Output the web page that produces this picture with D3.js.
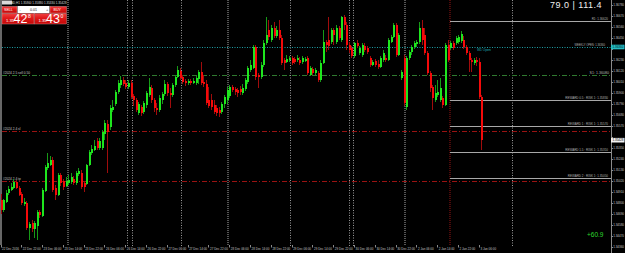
<!DOCTYPE html>
<html>
<head>
<meta charset="utf-8">
<script src="https://cdn.jsdelivr.net/npm/d3@7"></script>
<style>
html, body { margin: 0; padding: 0; background: #000; overflow: hidden; }
svg { display: block; }
text { font-family: "Liberation Sans", Arial, sans-serif; }
</style>
</head>
<body>
<div class="container"></div>
<script>
var width = 625, height = 253;

// price axis labels (right side)
var priceTicks = [1.3678, 1.3667, 1.3656, 1.3645, 1.3634, 1.3623, 1.3612, 1.3601, 1.3590, 1.3579, 1.3568, 1.3557,
	1.3546, 1.3535, 1.3524, 1.3513, 1.3502, 1.3491, 1.3480, 1.3469, 1.3458, 1.3447, 1.3436];

// time axis labels, one every 8 hourly bars
var timeLabels = ["22 Dec 2016", "22 Dec 22:00", "23 Dec 06:00", "23 Dec 14:00", "23 Dec 22:00", "26 Dec 06:00",
	"26 Dec 14:00", "26 Dec 22:00", "27 Dec 06:00", "27 Dec 14:00", "27 Dec 22:00", "28 Dec 06:00",
	"28 Dec 14:00", "28 Dec 22:00", "29 Dec 06:00", "29 Dec 14:00", "29 Dec 22:00", "30 Dec 06:00",
	"30 Dec 14:00", "30 Dec 22:00", "2 Jan 06:00", "2 Jan 14:00", "2 Jan 22:00", "3 Jan 06:00"];
var timeLabelBars = [0, 8, 16, 24, 32, 40, 48, 56, 64, 72, 80, 88, 96, 104, 112, 120, 128, 136, 144, 152, 160, 168, 176, 184];

// USDCAD H1 candles
var open = [
	1.3483, 1.3473, 1.3481, 1.3490, 1.3493, 1.3495, 1.3501, 1.3495, 1.3489, 1.3479, 1.3480, 1.3455,
	1.3460, 1.3454, 1.3457, 1.3471, 1.3467, 1.3492, 1.3515, 1.3518, 1.3523, 1.3495, 1.3488, 1.3508,
	1.3502, 1.3497, 1.3500, 1.3501, 1.3504, 1.3500, 1.3509, 1.3510, 1.3500, 1.3499, 1.3518, 1.3530,
	1.3533, 1.3542, 1.3535, 1.3535, 1.3549, 1.3559, 1.3556, 1.3573, 1.3579, 1.3591, 1.3598, 1.3603,
	1.3600, 1.3596, 1.3600, 1.3587, 1.3583, 1.3570, 1.3576, 1.3571, 1.3578, 1.3588, 1.3595, 1.3583,
	1.3575, 1.3573, 1.3583, 1.3589, 1.3599, 1.3590, 1.3588, 1.3598, 1.3606, 1.3612, 1.3606, 1.3602,
	1.3600, 1.3602, 1.3600, 1.3600, 1.3604, 1.3611, 1.3601, 1.3599, 1.3583, 1.3583, 1.3578, 1.3575,
	1.3573, 1.3571, 1.3579, 1.3583, 1.3587, 1.3596, 1.3594, 1.3593, 1.3594, 1.3590, 1.3594, 1.3601,
	1.3613, 1.3615, 1.3636, 1.3608, 1.3606, 1.3618, 1.3640, 1.3653, 1.3643, 1.3655, 1.3647, 1.3653,
	1.3645, 1.3623, 1.3621, 1.3623, 1.3625, 1.3624, 1.3623, 1.3623, 1.3621, 1.3622, 1.3625, 1.3608,
	1.3614, 1.3610, 1.3610, 1.3603, 1.3620, 1.3641, 1.3643, 1.3641, 1.3653, 1.3641, 1.3655, 1.3643,
	1.3666, 1.3658, 1.3638, 1.3635, 1.3627, 1.3640, 1.3630, 1.3628, 1.3637, 1.3635, 1.3625, 1.3618,
	1.3622, 1.3619, 1.3616, 1.3623, 1.3625, 1.3623, 1.3641, 1.3646, 1.3658, 1.3628, 1.3605, 1.3625,
	1.3576, 1.3625, 1.3631, 1.3636, 1.3639, 1.3641, 1.3655, 1.3648, 1.3630, 1.3610, 1.3596, 1.3583,
	1.3588, 1.3583, 1.3585, 1.3578, 1.3638, 1.3635, 1.3640, 1.3640, 1.3641, 1.3642, 1.3643, 1.3636,
	1.3630, 1.3623, 1.3620, 1.3623, 1.3621, 1.3586];
var high = [
	1.3489, 1.3484, 1.3493, 1.3497, 1.3500, 1.3504, 1.3503, 1.3497, 1.3491, 1.3485, 1.3482, 1.3461,
	1.3463, 1.3462, 1.3473, 1.3473, 1.3495, 1.3518, 1.3530, 1.3527, 1.3526, 1.3498, 1.3510, 1.3510,
	1.3504, 1.3506, 1.3508, 1.3510, 1.3507, 1.3512, 1.3515, 1.3513, 1.3502, 1.3519, 1.3533, 1.3538,
	1.3543, 1.3545, 1.3545, 1.3553, 1.3563, 1.3563, 1.3578, 1.3583, 1.3593, 1.3603, 1.3607, 1.3606,
	1.3603, 1.3603, 1.3603, 1.3589, 1.3585, 1.3581, 1.3578, 1.3582, 1.3592, 1.3605, 1.3598, 1.3585,
	1.3580, 1.3588, 1.3591, 1.3603, 1.3601, 1.3595, 1.3600, 1.3608, 1.3617, 1.3615, 1.3608, 1.3604,
	1.3604, 1.3604, 1.3605, 1.3607, 1.3613, 1.3621, 1.3608, 1.3603, 1.3596, 1.3589, 1.3583, 1.3578,
	1.3576, 1.3581, 1.3588, 1.3596, 1.3598, 1.3598, 1.3596, 1.3595, 1.3597, 1.3599, 1.3605, 1.3617,
	1.3623, 1.3638, 1.3638, 1.3610, 1.3621, 1.3643, 1.3666, 1.3663, 1.3658, 1.3661, 1.3657, 1.3663,
	1.3648, 1.3625, 1.3628, 1.3627, 1.3627, 1.3626, 1.3628, 1.3626, 1.3627, 1.3626, 1.3627, 1.3617,
	1.3616, 1.3615, 1.3612, 1.3623, 1.3653, 1.3643, 1.3666, 1.3655, 1.3655, 1.3658, 1.3657, 1.3667,
	1.3668, 1.3661, 1.3641, 1.3637, 1.3641, 1.3643, 1.3637, 1.3640, 1.3640, 1.3637, 1.3627, 1.3623,
	1.3624, 1.3623, 1.3627, 1.3633, 1.3628, 1.3645, 1.3648, 1.3660, 1.3660, 1.3650, 1.3613, 1.3628,
	1.3627, 1.3633, 1.3638, 1.3642, 1.3643, 1.3661, 1.3663, 1.3655, 1.3632, 1.3612, 1.3598, 1.3598,
	1.3603, 1.3605, 1.3587, 1.3640, 1.3643, 1.3642, 1.3642, 1.3647, 1.3648, 1.3652, 1.3647, 1.3638,
	1.3632, 1.3625, 1.3625, 1.3626, 1.3625, 1.3588];
var low = [
	1.3469, 1.3471, 1.3480, 1.3488, 1.3492, 1.3494, 1.3494, 1.3487, 1.3478, 1.3477, 1.3453, 1.3443,
	1.3451, 1.3445, 1.3443, 1.3465, 1.3466, 1.3491, 1.3513, 1.3517, 1.3491, 1.3483, 1.3487, 1.3497,
	1.3493, 1.3496, 1.3498, 1.3499, 1.3498, 1.3498, 1.3507, 1.3494, 1.3491, 1.3498, 1.3517, 1.3528,
	1.3532, 1.3533, 1.3533, 1.3533, 1.3543, 1.3510, 1.3553, 1.3571, 1.3577, 1.3589, 1.3595, 1.3597,
	1.3594, 1.3594, 1.3584, 1.3577, 1.3571, 1.3568, 1.3567, 1.3569, 1.3575, 1.3586, 1.3580, 1.3571,
	1.3568, 1.3571, 1.3579, 1.3587, 1.3587, 1.3575, 1.3586, 1.3596, 1.3605, 1.3603, 1.3599, 1.3597,
	1.3598, 1.3598, 1.3599, 1.3598, 1.3599, 1.3598, 1.3596, 1.3578, 1.3575, 1.3573, 1.3569, 1.3567,
	1.3566, 1.3569, 1.3575, 1.3579, 1.3585, 1.3591, 1.3588, 1.3586, 1.3588, 1.3588, 1.3592, 1.3599,
	1.3611, 1.3614, 1.3603, 1.3595, 1.3604, 1.3616, 1.3638, 1.3643, 1.3641, 1.3645, 1.3645, 1.3643,
	1.3618, 1.3613, 1.3620, 1.3621, 1.3618, 1.3619, 1.3621, 1.3618, 1.3619, 1.3621, 1.3608, 1.3607,
	1.3608, 1.3608, 1.3601, 1.3601, 1.3619, 1.3631, 1.3633, 1.3639, 1.3638, 1.3639, 1.3643, 1.3641,
	1.3653, 1.3633, 1.3630, 1.3625, 1.3625, 1.3635, 1.3628, 1.3626, 1.3631, 1.3629, 1.3616, 1.3617,
	1.3616, 1.3614, 1.3615, 1.3621, 1.3621, 1.3622, 1.3640, 1.3645, 1.3626, 1.3627, 1.3603, 1.3577,
	1.3573, 1.3623, 1.3628, 1.3634, 1.3636, 1.3639, 1.3638, 1.3628, 1.3608, 1.3591, 1.3573, 1.3581,
	1.3586, 1.3581, 1.3575, 1.3577, 1.3621, 1.3633, 1.3633, 1.3638, 1.3639, 1.3640, 1.3634, 1.3628,
	1.3611, 1.3611, 1.3618, 1.3617, 1.3584, 1.3533];
var close = [
	1.3473, 1.3483, 1.3490, 1.3494, 1.3496, 1.3501, 1.3495, 1.3488, 1.3480, 1.3481, 1.3455, 1.3459,
	1.3454, 1.3460, 1.3471, 1.3468, 1.3493, 1.3516, 1.3520, 1.3523, 1.3493, 1.3488, 1.3508, 1.3500,
	1.3496, 1.3502, 1.3503, 1.3506, 1.3500, 1.3510, 1.3512, 1.3496, 1.3496, 1.3518, 1.3531, 1.3534,
	1.3537, 1.3535, 1.3542, 1.3551, 1.3560, 1.3551, 1.3575, 1.3576, 1.3591, 1.3600, 1.3603, 1.3599,
	1.3596, 1.3600, 1.3586, 1.3583, 1.3573, 1.3579, 1.3570, 1.3580, 1.3590, 1.3596, 1.3583, 1.3575,
	1.3573, 1.3585, 1.3589, 1.3599, 1.3590, 1.3588, 1.3598, 1.3606, 1.3613, 1.3605, 1.3601, 1.3600,
	1.3602, 1.3600, 1.3602, 1.3605, 1.3611, 1.3600, 1.3599, 1.3580, 1.3577, 1.3576, 1.3571, 1.3570,
	1.3570, 1.3579, 1.3586, 1.3593, 1.3596, 1.3593, 1.3591, 1.3590, 1.3591, 1.3595, 1.3603, 1.3615,
	1.3618, 1.3636, 1.3606, 1.3606, 1.3618, 1.3640, 1.3648, 1.3646, 1.3655, 1.3647, 1.3653, 1.3645,
	1.3620, 1.3620, 1.3624, 1.3625, 1.3620, 1.3621, 1.3625, 1.3620, 1.3625, 1.3624, 1.3610, 1.3615,
	1.3610, 1.3613, 1.3603, 1.3620, 1.3641, 1.3638, 1.3637, 1.3653, 1.3648, 1.3655, 1.3645, 1.3666,
	1.3658, 1.3638, 1.3633, 1.3627, 1.3640, 1.3637, 1.3635, 1.3638, 1.3633, 1.3631, 1.3618, 1.3621,
	1.3618, 1.3616, 1.3625, 1.3630, 1.3623, 1.3643, 1.3646, 1.3658, 1.3628, 1.3648, 1.3611, 1.3580,
	1.3625, 1.3631, 1.3636, 1.3640, 1.3641, 1.3655, 1.3643, 1.3630, 1.3610, 1.3595, 1.3585, 1.3590,
	1.3591, 1.3595, 1.3578, 1.3638, 1.3623, 1.3640, 1.3635, 1.3645, 1.3646, 1.3649, 1.3636, 1.3630,
	1.3623, 1.3621, 1.3623, 1.3621, 1.3586, 1.3543];

// vertical dotted lines (bar index positions)
var gridBars = [48.3, 50.2, 69, 111, 133.7, 135.2, 196.3];
var sepBars = [25.6, 87.1, 155];
var dayBar = 172.5;

// levels drawn from the day separator to the price axis
var levelPrices = [1.3662, 1.3583, 1.3557, 1.3531, 1.3505];
var levelNames = ["R1: 1.36620", "REWARD 0.5 : RISK 1: 1.35830", "REWARD 1 : RISK 1: 1.35570",
	"REWARD 1.5 : RISK 1: 1.35310", "REWARD 2 : RISK 1: 1.35050"];

// full width lines
var weeklyOpen = 1.3636;
var supportLine = 1.3608;
var redLines = [1.3552, 1.3502];
var orderNames = ["#2024 2.5 sell 0.50", "#2024 2.4 sl", "#2024 2.4 tp"];
var orderPrices = [1.3608, 1.3552, 1.3502];

var bid = 1.35428, ask = 1.35430;

var svg = d3.select('.container').append('svg')
	.attr('width', width)
	.attr('height', height)
	.style('background', '#000');

var x = d3.scaleLinear().domain([0, 234]).range([1.5, 1.5 + 2.6 * 234]);
var y = d3.scaleLinear().domain([1.3683, 1.3433]).range([0, 250]);
var axisX = 611;
var fmt = d3.format('.5f');

// left frame
svg.append('line').attr('x1', 1).attr('x2', 1).attr('y1', 0).attr('y2', 245)
	.attr('stroke', '#8a8a8a').attr('stroke-width', 1.5);

// dotted verticals
svg.selectAll('line.grid').data(gridBars).enter().append('line')
	.attr('x1', function (d) { return Math.round(x(d)) + 0.5; })
	.attr('x2', function (d) { return Math.round(x(d)) + 0.5; })
	.attr('y1', 0).attr('y2', 246)
	.attr('stroke', '#9a9a9a').attr('stroke-dasharray', '1,1.5');
svg.selectAll('line.sep').data(sepBars).enter().append('line')
	.attr('x1', function (d) { return Math.round(x(d)); })
	.attr('x2', function (d) { return Math.round(x(d)); })
	.attr('y1', 0).attr('y2', 246)
	.attr('stroke', '#6a6a6a').attr('stroke-width', 1.6).attr('stroke-dasharray', '1,1');
svg.append('line')
	.attr('x1', Math.round(x(dayBar))).attr('x2', Math.round(x(dayBar)))
	.attr('y1', 0).attr('y2', 246)
	.attr('stroke', '#4e0a0a').attr('stroke-width', 2).attr('stroke-dasharray', '1,1');

// full width horizontal lines
svg.append('line').attr('x1', 2).attr('x2', axisX)
	.attr('y1', Math.round(y(weeklyOpen)) + 0.5).attr('y2', Math.round(y(weeklyOpen)) + 0.5)
	.attr('stroke', '#1e9ea6').attr('stroke-dasharray', '1,1.5');
svg.append('line').attr('x1', 2).attr('x2', axisX)
	.attr('y1', Math.round(y(supportLine)) + 0.5).attr('y2', Math.round(y(supportLine)) + 0.5)
	.attr('stroke', '#2f7a2f').attr('stroke-dasharray', '5,2,1,2');
svg.selectAll('line.red').data(redLines).enter().append('line')
	.attr('x1', 2).attr('x2', axisX)
	.attr('y1', function (d) { return Math.round(y(d)) + 0.5; })
	.attr('y2', function (d) { return Math.round(y(d)) + 0.5; })
	.attr('stroke', '#9a1212').attr('stroke-dasharray', '5,2,1,2');

// right side levels
svg.selectAll('line.level').data(levelPrices).enter().append('line')
	.attr('x1', Math.round(x(dayBar))).attr('x2', axisX)
	.attr('y1', function (d) { return Math.round(y(d)) + 0.5; })
	.attr('y2', function (d) { return Math.round(y(d)) + 0.5; })
	.attr('stroke', '#a8a8a8').attr('stroke-width', 1.2);
svg.selectAll('text.level').data(levelPrices).enter().append('text')
	.attr('x', 608).attr('y', function (d) { return y(d) - 1; })
	.attr('text-anchor', 'end')
	.attr('font-size', 3).attr('fill', '#b0b0b0')
	.text(function (d, i) { return levelNames[i]; });
svg.append('text').attr('x', 605).attr('y', y(weeklyOpen) - 0.7)
	.attr('text-anchor', 'end').attr('font-size', 2.7).attr('fill', '#b0b0b0')
	.text('WEEKLY OPEN: ' + fmt(weeklyOpen));
svg.append('text').attr('x', 609).attr('y', y(supportLine) - 1.5)
	.attr('text-anchor', 'end').attr('font-size', 3.6).attr('fill', '#b0b0b0')
	.text('S1: ' + fmt(supportLine));
svg.append('text').attr('x', 477).attr('y', y(weeklyOpen) + 3.5)
	.attr('font-size', 3.3).attr('fill', '#1eb4bc')
	.text('W1 Open');

// order labels on the left
svg.selectAll('text.order').data(orderPrices).enter().append('text')
	.attr('x', 3).attr('y', function (d) { return y(d) - 1; })
	.attr('font-size', 3.2).attr('fill', '#c8c8c8')
	.text(function (d, i) { return orderNames[i]; });

// candles
var bars = close.map(function (c, i) {
	return { i: i, o: open[i], h: high[i], l: low[i], c: c };
});
var candles = svg.append('g');
candles.selectAll('rect.wick').data(bars).enter().append('rect')
	.attr('x', function (d) { return Math.round(x(d.i)) - 1; })
	.attr('y', function (d) { return y(d.h); })
	.attr('width', 1)
	.attr('height', function (d) { return y(d.l) - y(d.h); })
	.attr('fill', function (d) { return d.c >= d.o ? '#179a17' : '#a00c0c'; });
candles.selectAll('rect.body').data(bars).enter().append('rect')
	.attr('x', function (d) { return Math.round(x(d.i)) - 1; })
	.attr('y', function (d) { return y(Math.max(d.o, d.c)); })
	.attr('width', 2)
	.attr('height', function (d) { return Math.max(1, Math.abs(y(d.o) - y(d.c))); })
	.attr('fill', function (d) { return d.c >= d.o ? '#1ee61e' : '#f40a0a'; });

// price axis
var tagPrices = [weeklyOpen, bid];
svg.append('line').attr('x1', axisX + 0.5).attr('x2', axisX + 0.5).attr('y1', 0).attr('y2', 253)
	.attr('stroke', '#8a8a8a');
var py = svg.append('g');
py.selectAll('line').data(priceTicks).enter().append('line')
	.attr('x1', axisX).attr('x2', axisX + 2)
	.attr('y1', function (d) { return Math.round(y(d)) + 0.5; })
	.attr('y2', function (d) { return Math.round(y(d)) + 0.5; })
	.attr('stroke', '#8a8a8a');
// tick labels hidden under the highlighted price tags are left out
var shownTicks = priceTicks.filter(function (d) {
	return tagPrices.every(function (t) { return Math.abs(y(t) - y(d)) > 5; });
});
py.selectAll('text').data(shownTicks).enter().append('text')
	.attr('x', axisX + 2.2).attr('y', function (d) { return y(d) + 1.2; })
	.attr('font-size', 3).attr('fill', '#c4c4c4')
	.text(function (d) { return fmt(d); });

// highlighted prices on the axis
function priceTag(p, bg, fg) {
	var yy = y(p);
	svg.append('rect').attr('x', axisX).attr('y', yy - 2.3).attr('width', 13.5).attr('height', 4.6).attr('fill', bg);
	svg.append('text').attr('x', axisX + 1.5).attr('y', yy + 1.2)
		.attr('font-size', 3).attr('fill', fg)
		.text(fmt(p));
}
priceTag(weeklyOpen, '#24bcc4', '#002020');
priceTag(bid, '#f2f2f2', '#000');

// time axis
var tx = svg.append('g');
tx.selectAll('line').data(timeLabelBars).enter().append('line')
	.attr('x1', function (d) { return Math.round(x(d)) - 0.5; })
	.attr('x2', function (d) { return Math.round(x(d)) - 0.5; })
	.attr('y1', 245).attr('y2', 247.5)
	.attr('stroke', '#8a8a8a');
tx.selectAll('text').data(timeLabelBars).enter().append('text')
	.attr('x', function (d) { return x(d) + 0.5; })
	.attr('y', 250.3)
	.attr('font-size', 3).attr('fill', '#c4c4c4')
	.text(function (d, i) { return timeLabels[i]; });

// info texts
svg.append('text').attr('x', 550).attr('y', 7.5)
	.attr('font-size', 9).attr('letter-spacing', 0.5).attr('fill', '#f0f0f0')
	.text('79.0 | 111.4');
svg.append('text').attr('x', 587).attr('y', 237)
	.attr('font-size', 6.5).attr('fill', '#2ed82e')
	.text('+60.9');

// title line
svg.append('rect').attr('x', 2).attr('y', 0.5).attr('width', 10).attr('height', 4).attr('fill', '#d8d8d8');
svg.append('text').attr('x', 2.5).attr('y', 4)
	.attr('font-size', 3).attr('fill', '#dcdcdc')
	.text('USDCAD,H1  ' + fmt(open[open.length - 1]) + ' ' + fmt(high[high.length - 1]) + ' ' +
		fmt(low[low.length - 1]) + ' ' + fmt(bid));

// one click trading panel
var defs = svg.append('defs');
var grad = defs.append('linearGradient').attr('id', 'redg').attr('x1', 0).attr('x2', 0).attr('y1', 0).attr('y2', 1);
grad.append('stop').attr('offset', '0%').attr('stop-color', '#f04040');
grad.append('stop').attr('offset', '45%').attr('stop-color', '#e01818');
grad.append('stop').attr('offset', '100%').attr('stop-color', '#c00808');

var panel = svg.append('g');
panel.append('rect').attr('x', 2).attr('y', 6.5).attr('width', 15).attr('height', 6.5).attr('fill', 'url(#redg)').attr('stroke', '#f6a0a0').attr('stroke-width', 0.4);
panel.append('text').attr('x', 4).attr('y', 11).attr('font-size', 3.6).attr('fill', '#fff').text('SELL');
panel.append('rect').attr('x', 17.5).attr('y', 6).attr('width', 32).attr('height', 7).attr('fill', '#ffffff');
panel.append('text').attr('x', 19.5).attr('y', 11).attr('font-size', 4).attr('fill', '#333').text('-');
panel.append('text').attr('x', 33.5).attr('y', 11).attr('font-size', 3.6).attr('text-anchor', 'middle').attr('fill', '#222').text('0.01');
panel.append('text').attr('x', 46).attr('y', 11).attr('font-size', 4).attr('fill', '#333').text('+');
panel.append('rect').attr('x', 50).attr('y', 6.5).attr('width', 16.5).attr('height', 6.5).attr('fill', 'url(#redg)').attr('stroke', '#f6a0a0').attr('stroke-width', 0.4);
panel.append('text').attr('x', 53.5).attr('y', 11).attr('font-size', 3.6).attr('fill', '#fff').text('BUY');

function quoteBox(bx, p) {
	var s = fmt(p);
	panel.append('rect').attr('x', bx).attr('y', 13.5).attr('width', 32).attr('height', 10.5)
		.attr('fill', 'url(#redg)').attr('stroke', '#f6a0a0').attr('stroke-width', 0.4);
	panel.append('text').attr('x', bx + 4).attr('y', 22).attr('font-size', 4.2).attr('fill', '#fff').text(s.slice(0, 4));
	panel.append('text').attr('x', bx + 11.5).attr('y', 23.2).attr('font-size', 12.5).attr('fill', '#fff').text(s.slice(4, 6));
	panel.append('text').attr('x', bx + 26).attr('y', 17.8).attr('font-size', 5).attr('fill', '#fff').text(s.slice(6, 7));
}
quoteBox(2, bid);
quoteBox(34.5, ask);
</script>
</body>
</html>
